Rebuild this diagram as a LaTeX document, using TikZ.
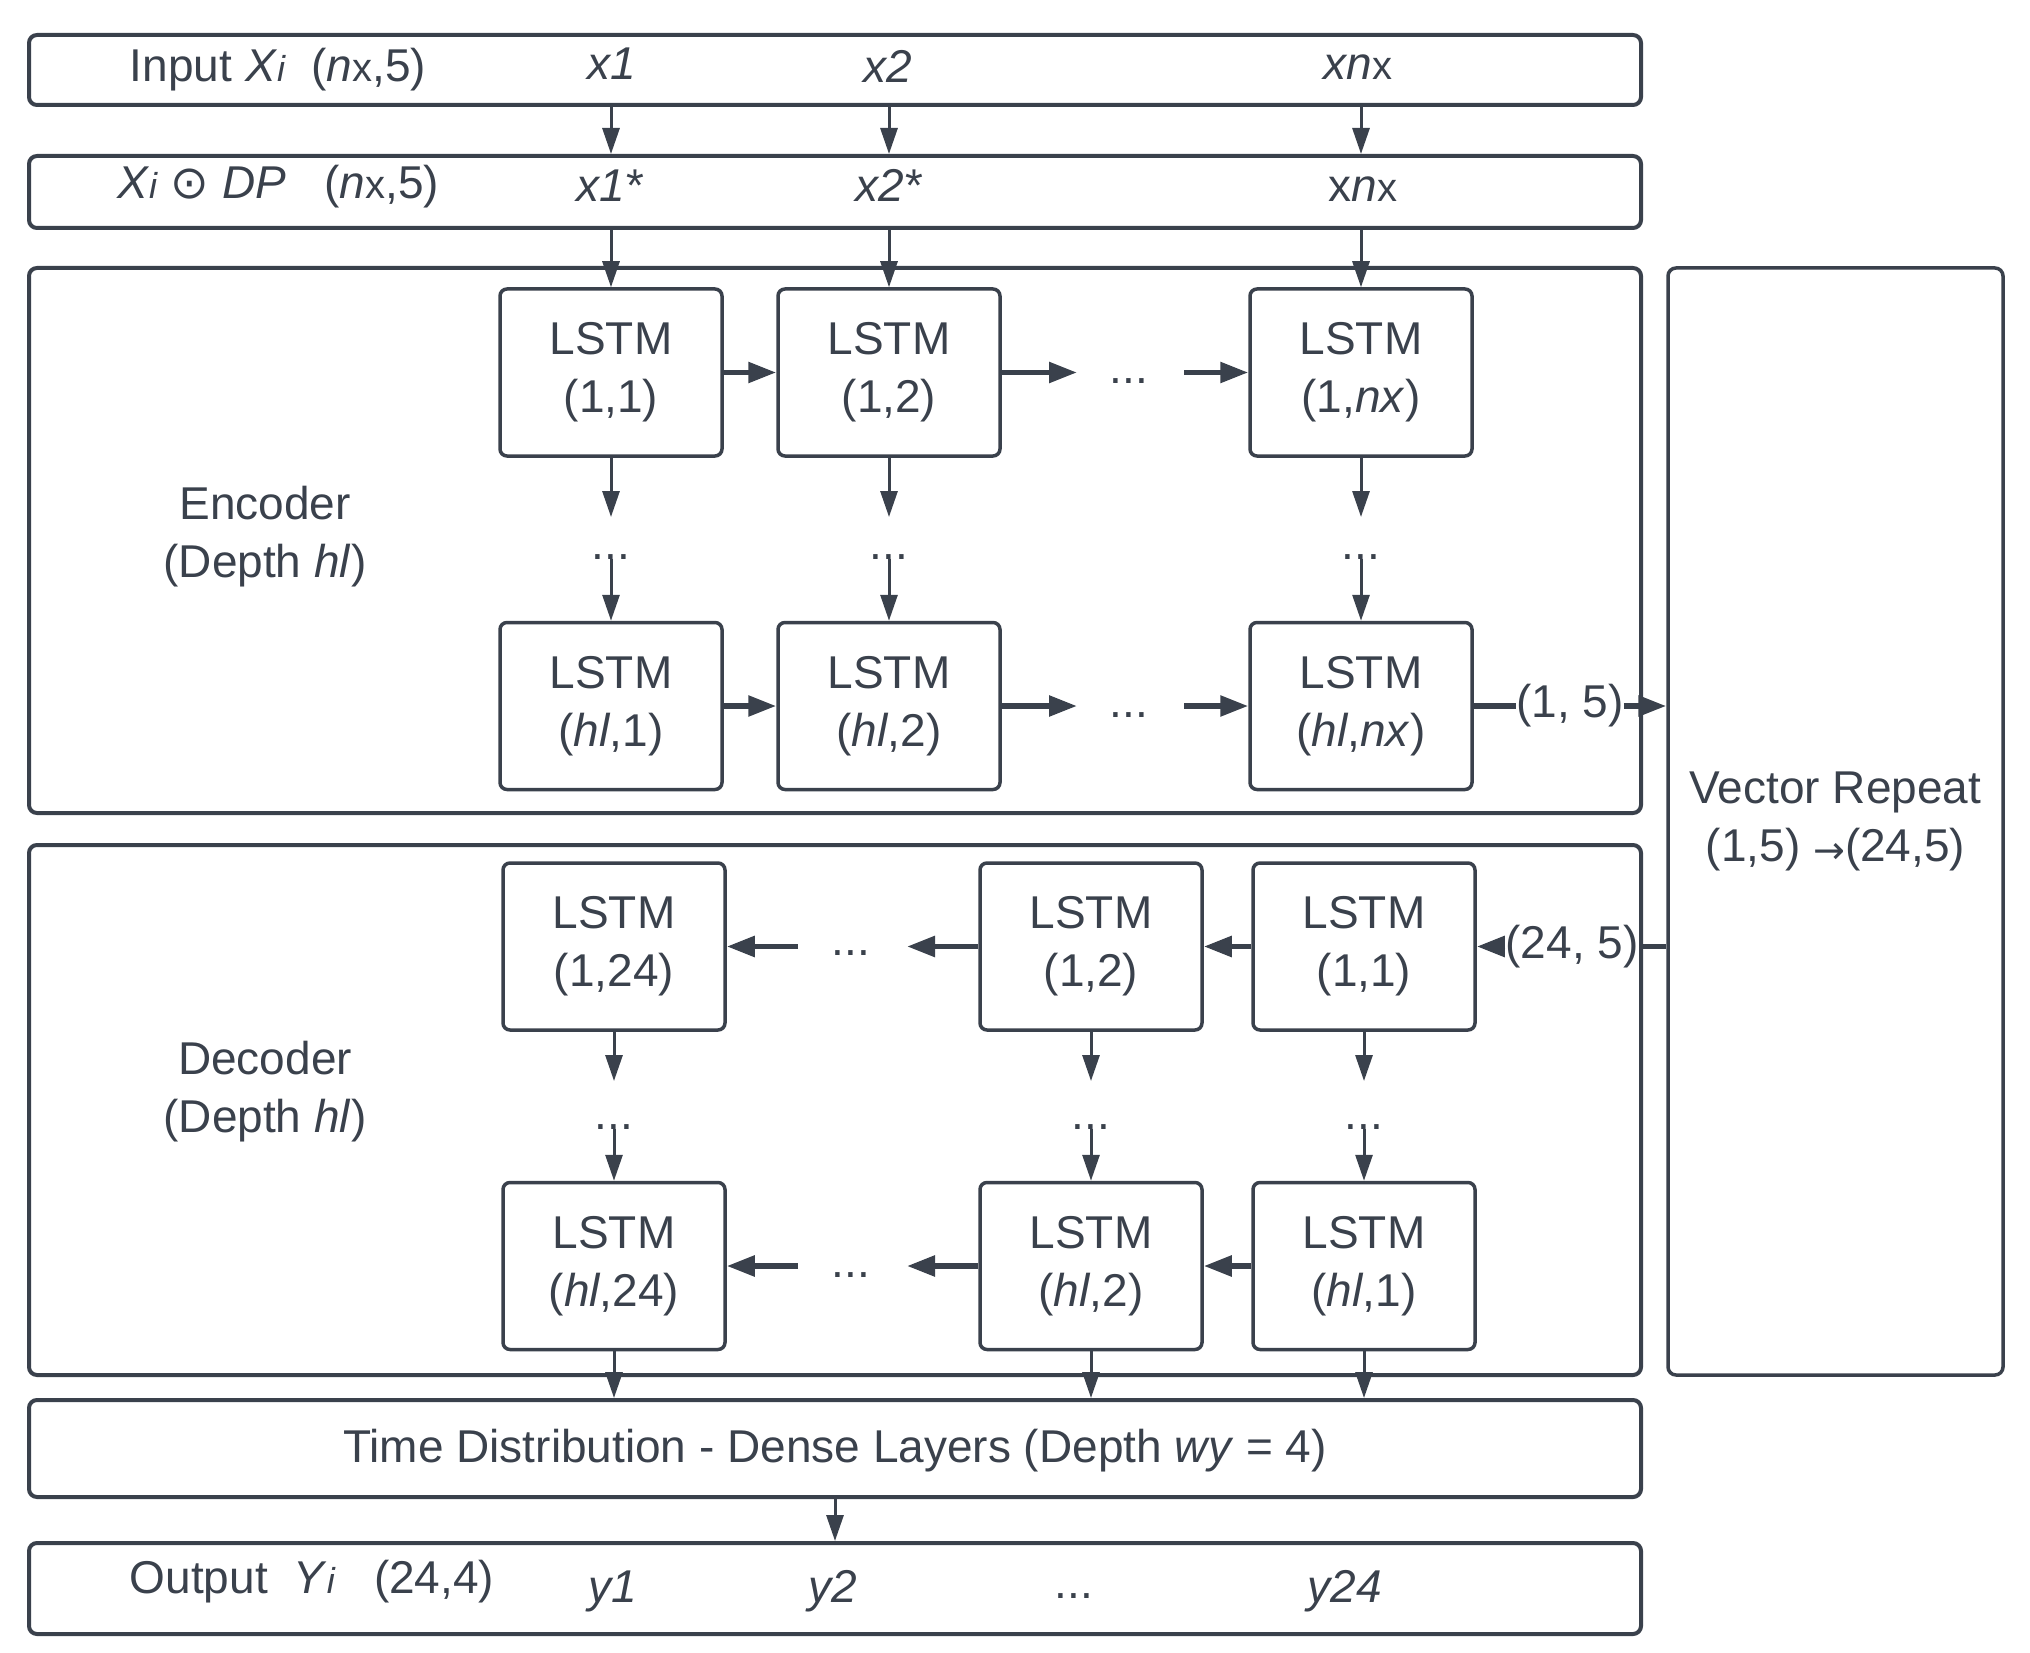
\documentclass[tikz,border=0pt]{standalone}
\usepackage{fontspec}
\setmainfont{Liberation Sans}
\newfontfamily\dejavu{DejaVu Sans}
\usetikzlibrary{arrows.meta}
\definecolor{ink}{RGB}{58,65,76}
\newcommand{\smi}[1]{{\fontsize{36}{36}\selectfont\textit{#1}}}
\newcommand{\smx}[1]{{\fontsize{40}{40}\selectfont #1}}
\begin{document}
\begin{tikzpicture}[x=1pt,y=-1pt,
  every node/.style={text=ink, font=\fontsize{46}{58}\selectfont, inner sep=0pt},
  outerbox/.style={draw=ink, line width=4pt, rounded corners=8pt, minimum width=1612pt},
  lstmbox/.style={draw=ink, line width=3.5pt, rounded corners=7pt, minimum width=222pt, minimum height=167pt, align=center},
  vrbox/.style={draw=ink, line width=3.5pt, rounded corners=8pt, minimum width=335pt, minimum height=1107pt, align=center},
  thinarr/.style={draw=ink, line width=3pt, -{Triangle[length=26pt,width=17pt]}},
  thickarr/.style={draw=ink, line width=5.5pt, -{Triangle[length=28pt,width=20pt]}},
  plainline/.style={draw=ink, line width=5.5pt},
]
\useasboundingbox (0,0) rectangle (2030,1653);

% outer boxes
\node[outerbox, minimum height=70pt] (inbox) at (835,70) {};
\node[outerbox, minimum height=72pt] (dpbox) at (835,192) {};
\node[outerbox, minimum height=545pt] (encbox) at (835,540.5) {};
\node[outerbox, minimum height=530pt] (decbox) at (835,1110) {};
\node[outerbox, minimum height=97pt] (tdbox) at (835,1448.5) {};
\node[outerbox, minimum height=91pt] (outbox) at (835,1588.5) {};
\node[vrbox] (vr) at (1835.5,821.5) {Vector Repeat\\(1,5)\ {\dejavu\fontsize{38}{38}\selectfont\raisebox{-2pt}{→}}(24,5)};

% row labels
\node[anchor=base] (inlab) at (278,82) {Input \textit{X}\smi{i}\ \ (\textit{n}\smx{x},5)};
\node[anchor=base] (x1lab) at (612,80) {\textit{x1}};
\node[anchor=base] (x2lab) at (888,83) {\textit{x2}};
\node[anchor=base] (xnlab) at (1358,80) {\textit{xn}\smx{x}};
\node[anchor=base] (dplab) at (278,199) {\textit{X}\smi{i} {\dejavu ⊙} \textit{DP}\ \ \ (\textit{n}\smx{x},5)};
\node[anchor=base] (x1s) at (610,202) {\textit{x1*}};
\node[anchor=base] (x2s) at (889,202) {\textit{x2*}};
\node[anchor=base] (xns) at (1363,202) {x\textit{n}\smx{x}};
\node[align=center] (enclab) at (265,537) {Encoder\\(Depth \textit{hl})};
\node[align=center] (declab) at (265,1092) {Decoder\\(Depth \textit{hl})};
\node[anchor=base] (tdlab) at (835,1462) {Time Distribution - Dense Layers (Depth \textit{wy} = 4)};
\node[anchor=base] (outlab) at (312,1593) {Output\ \ \textit{Y}\smi{i}\ \ \ (24,4)};
\node[anchor=base] (y1lab) at (613,1602) {\textit{y1}};
\node[anchor=base] (y2lab) at (833,1602) {\textit{y2}};
\node[anchor=base] (ydots) at (1074,1598) {...};
\node[anchor=base] (y24lab) at (1345,1602) {\textit{y24}};

% encoder LSTMs
\node[lstmbox] (e11) at (611,372.5) {LSTM\\(1,1)};
\node[lstmbox] (e12) at (889,372.5) {LSTM\\(1,2)};
\node[lstmbox] (e13) at (1361,372.5) {LSTM\\(1,\textit{nx})};
\node[lstmbox] (e21) at (611,706) {LSTM\\(\textit{hl},1)};
\node[lstmbox] (e22) at (889,706) {LSTM\\(\textit{hl},2)};
\node[lstmbox] (e23) at (1361,706) {LSTM\\(\textit{hl},\textit{nx})};

% decoder LSTMs
\node[lstmbox] (dA1) at (614,946.5) {LSTM\\(1,24)};
\node[lstmbox] (dB1) at (1091,946.5) {LSTM\\(1,2)};
\node[lstmbox] (dC1) at (1364,946.5) {LSTM\\(1,1)};
\node[lstmbox] (dA2) at (614,1266) {LSTM\\(\textit{hl},24)};
\node[lstmbox] (dB2) at (1091,1266) {LSTM\\(\textit{hl},2)};
\node[lstmbox] (dC2) at (1364,1266) {LSTM\\(\textit{hl},1)};

% input arrows
\draw[thinarr] (inbox.south -| e11) -- (dpbox.north -| e11);
\draw[thinarr] (inbox.south -| e12) -- (dpbox.north -| e12);
\draw[thinarr] (inbox.south -| e13) -- (dpbox.north -| e13);
\draw[thinarr] (dpbox.south -| e11) -- (e11.north);
\draw[thinarr] (dpbox.south -| e12) -- (e12.north);
\draw[thinarr] (dpbox.south -| e13) -- (e13.north);

% encoder horizontal
\draw[thickarr] (e11) -- (e12);
\coordinate (e1a) at (1077,372.5);
\coordinate (e1b) at (1184,372.5);
\draw[thickarr] (e12.east) -- (e1a);
\node[anchor=base] (edots1) at (1129,384) {...};
\draw[thickarr] (e1b) -- (e13.west);
\draw[thickarr] (e21) -- (e22);
\coordinate (e2a) at (1077,706);
\coordinate (e2b) at (1184,706);
\draw[thickarr] (e22.east) -- (e2a);
\node[anchor=base] (edots2) at (1129,717) {...};
\draw[thickarr] (e2b) -- (e23.west);

% encoder vertical
\coordinate (ev1) at (611,517);
\coordinate (ev2) at (889,517);
\coordinate (ev3) at (1361,517);
\draw[thinarr] (e11.south) -- (ev1);
\draw[thinarr] (e12.south) -- (ev2);
\draw[thinarr] (e13.south) -- (ev3);
\node[anchor=base] (evd1) at (611,559) {...};
\node[anchor=base] (evd2) at (889,559) {...};
\node[anchor=base] (evd3) at (1361,559) {...};
\draw[thinarr] (evd1.base) -- (e21.north);
\draw[thinarr] (evd2.base) -- (e22.north);
\draw[thinarr] (evd3.base) -- (e23.north);

% encoder -> vector repeat
\node (l15) at (1570,706) {(1, 5)};
\draw[plainline] (e23.east) -- (l15.west);
\draw[thickarr] (l15.east) -- (vr.west |- l15);

% vector repeat -> decoder
\node (l245) at (1572,946.5) {(24, 5)};
\draw[plainline] (vr.west |- l245) -- (l245.east);
\draw[thickarr] (l245.west) -- (dC1.east);

% decoder horizontal
\draw[thickarr] (dC1) -- (dB1);
\coordinate (d1a) at (907,946.5);
\coordinate (d1b) at (798,946.5);
\draw[thickarr] (dB1.west) -- (d1a);
\node[anchor=base] (ddots1) at (851,955) {...};
\draw[thickarr] (d1b) -- (dA1.east);
\draw[thickarr] (dC2) -- (dB2);
\coordinate (d2a) at (907,1266);
\coordinate (d2b) at (798,1266);
\draw[thickarr] (dB2.west) -- (d2a);
\node[anchor=base] (ddots2) at (851,1277) {...};
\draw[thickarr] (d2b) -- (dA2.east);

% decoder vertical
\coordinate (dvA) at (614,1081);
\coordinate (dvB) at (1091,1081);
\coordinate (dvC) at (1364,1081);
\draw[thinarr] (dA1.south) -- (dvA);
\draw[thinarr] (dB1.south) -- (dvB);
\draw[thinarr] (dC1.south) -- (dvC);
\node[anchor=base] (dvdA) at (614,1129) {...};
\node[anchor=base] (dvdB) at (1091,1129) {...};
\node[anchor=base] (dvdC) at (1364,1129) {...};
\draw[thinarr] (dvdA.base) -- (dA2.north);
\draw[thinarr] (dvdB.base) -- (dB2.north);
\draw[thinarr] (dvdC.base) -- (dC2.north);

% decoder -> time distribution
\draw[thinarr] (dA2.south) -- (tdbox.north -| dA2);
\draw[thinarr] (dB2.south) -- (tdbox.north -| dB2);
\draw[thinarr] (dC2.south) -- (tdbox.north -| dC2);

% time distribution -> output
\draw[thinarr] (tdbox.south) -- (outbox.north);
\end{tikzpicture}
\end{document}
